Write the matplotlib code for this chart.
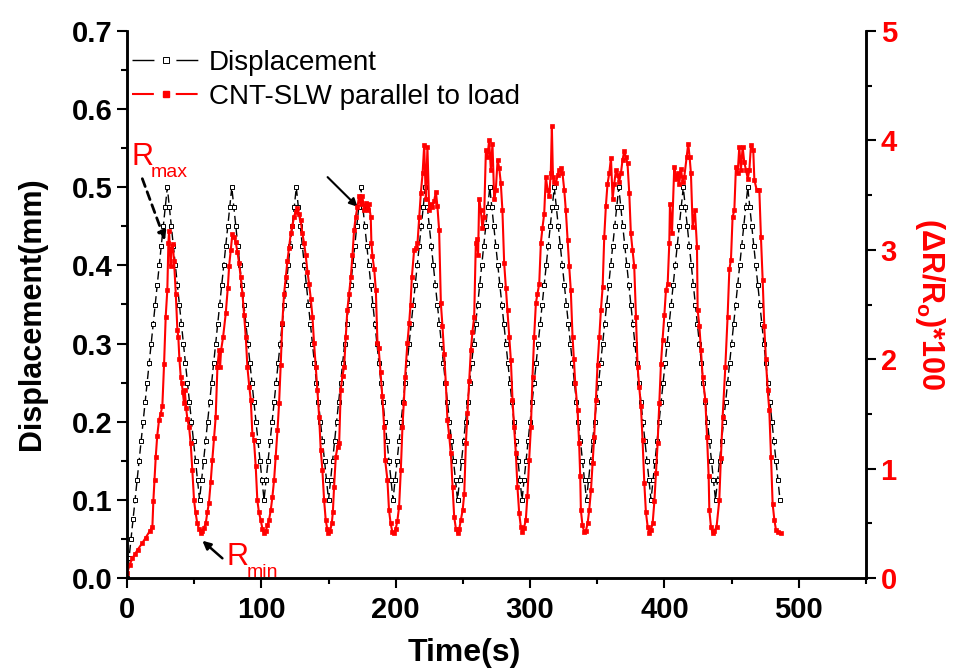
import numpy as np
import matplotlib
matplotlib.use("Agg")
from matplotlib import pyplot as plt
from matplotlib.ticker import MultipleLocator
from matplotlib.lines import Line2D

plt.rcParams['font.family'] = ['Liberation Sans', 'DejaVu Sans']
plt.rcParams['mathtext.fontset'] = 'custom'
plt.rcParams['mathtext.rm'] = 'Liberation Sans'
plt.rcParams['mathtext.bf'] = 'Liberation Sans:bold'

# displacement, sampled every 1.5 s
sample_step = 1.5
disp_mm = [
    0, 0.025, 0.05, 0.075, 0.1, 0.125, 0.15, 0.175, 0.2, 0.225, 0.25, 0.275, 0.3, 0.325, 0.35, 0.375, 0.4, 0.425, 0.45, 0.475, 0.5,
    0.475, 0.45, 0.425, 0.4, 0.375, 0.35, 0.325, 0.3, 0.275, 0.25, 0.225, 0.2, 0.175, 0.15, 0.125, 0.1,
    0.125, 0.15, 0.175, 0.2, 0.225, 0.25, 0.275, 0.3, 0.325, 0.35, 0.375, 0.4, 0.425, 0.45, 0.475, 0.5,
    0.475, 0.45, 0.425, 0.4, 0.375, 0.35, 0.325, 0.3, 0.275, 0.25, 0.225, 0.2, 0.175, 0.15, 0.125, 0.1,
    0.125, 0.15, 0.175, 0.2, 0.225, 0.25, 0.275, 0.3, 0.325, 0.35, 0.375, 0.4, 0.425, 0.45, 0.475, 0.5,
    0.475, 0.45, 0.425, 0.4, 0.375, 0.35, 0.325, 0.3, 0.275, 0.25, 0.225, 0.2, 0.175, 0.15, 0.125, 0.1,
    0.125, 0.15, 0.175, 0.2, 0.225, 0.25, 0.275, 0.3, 0.325, 0.35, 0.375, 0.4, 0.425, 0.45, 0.475, 0.5,
    0.475, 0.45, 0.425, 0.4, 0.375, 0.35, 0.325, 0.3, 0.275, 0.25, 0.225, 0.2, 0.175, 0.15, 0.125, 0.1,
    0.125, 0.15, 0.175, 0.2, 0.225, 0.25, 0.275, 0.3, 0.325, 0.35, 0.375, 0.4, 0.425, 0.45, 0.475, 0.5,
    0.475, 0.45, 0.425, 0.4, 0.375, 0.35, 0.325, 0.3, 0.275, 0.25, 0.225, 0.2, 0.175, 0.15, 0.125, 0.1,
    0.125, 0.15, 0.175, 0.2, 0.225, 0.25, 0.275, 0.3, 0.325, 0.35, 0.375, 0.4, 0.425, 0.45, 0.475, 0.5,
    0.475, 0.45, 0.425, 0.4, 0.375, 0.35, 0.325, 0.3, 0.275, 0.25, 0.225, 0.2, 0.175, 0.15, 0.125, 0.1,
    0.125, 0.15, 0.175, 0.2, 0.225, 0.25, 0.275, 0.3, 0.325, 0.35, 0.375, 0.4, 0.425, 0.45, 0.475, 0.5,
    0.475, 0.45, 0.425, 0.4, 0.375, 0.35, 0.325, 0.3, 0.275, 0.25, 0.225, 0.2, 0.175, 0.15, 0.125, 0.1,
    0.125, 0.15, 0.175, 0.2, 0.225, 0.25, 0.275, 0.3, 0.325, 0.35, 0.375, 0.4, 0.425, 0.45, 0.475, 0.5,
    0.475, 0.45, 0.425, 0.4, 0.375, 0.35, 0.325, 0.3, 0.275, 0.25, 0.225, 0.2, 0.175, 0.15, 0.125, 0.1,
    0.125, 0.15, 0.175, 0.2, 0.225, 0.25, 0.275, 0.3, 0.325, 0.35, 0.375, 0.4, 0.425, 0.45, 0.475, 0.5,
    0.475, 0.45, 0.425, 0.4, 0.375, 0.35, 0.325, 0.3, 0.275, 0.25, 0.225, 0.2, 0.175, 0.15, 0.125, 0.1,
    0.125, 0.15, 0.175, 0.2, 0.225, 0.25, 0.275, 0.3, 0.325, 0.35, 0.375, 0.4, 0.425, 0.45, 0.475, 0.5,
    0.475, 0.45, 0.425, 0.4, 0.375, 0.35, 0.325, 0.3, 0.275, 0.25, 0.225, 0.2, 0.175, 0.15, 0.125, 0.1,
]
disp_time = np.arange(len(disp_mm)) * sample_step

# (dR/Ro)*100 of the CNT-SLW sensor
red_time = [
    0.2, 2, 4, 6, 8, 11.4, 14, 17, 18.9, 19.6,
    20.5, 21.4, 22.5, 23.8, 25, 26.3, 27.6, 28.8, 30, 30.8,
    31.3, 32.5, 33, 34, 35, 36.3, 37.5, 38.2, 39, 40,
    40.8, 41.5, 42.4, 43, 44, 45, 46.2, 47.4, 48.6, 49.9,
    51, 52.3, 53.5, 54.9,
    56, 57.3, 58.6, 59.8, 61, 62.3, 63.5, 64.8, 66, 67.3,
    68.5, 69.3, 70, 71.5, 73.5, 75, 76, 77.2, 78.4, 79.6,
    80.9, 82.2, 83.4, 84.6, 85.9, 87.2, 88.4, 89.6, 91, 92.1,
    93.3, 94.5, 95.8, 97, 98.2, 99.5, 100.8, 102,
    103.3, 104.5, 105.7, 107, 108.2, 109.5, 110.7, 112, 113.2, 114.4,
    115.6, 116.9, 118.2, 119.4, 120.6, 121.9, 123.1, 124.3, 125.5, 126.8,
    128, 129.3, 130.5, 131.8, 133, 134.3, 135.5, 136.8, 138, 139.2,
    140.5, 141.7, 143, 144.2, 145.4, 146.7, 147.9, 149, 149.9,
    151.2, 152.4, 153.2, 154.1, 155.4, 156.7, 157.9, 159.1, 160.4, 161.6,
    162.8, 164, 165.3, 166.6, 167.8, 169, 170.2, 171.5, 172.7, 174,
    175.2, 176.4, 177.7, 179, 180, 181.4, 181.9, 182.7, 184, 185.2,
    186.4, 187.3, 188.7, 190, 191.4, 192.1, 193.8, 195, 196.2, 197.5,
    198.7,
    200, 201.2, 202.5, 203.8, 205, 206, 207, 208.7, 210, 211,
    212, 213.7, 215, 216.2, 217.5, 218.7, 220, 221.2, 222.4, 223.6,
    224.9, 226, 227.3, 228.6, 229.9, 231, 232.3, 233.6, 234.8, 236,
    237.3, 238.5, 239.8, 241, 242.3, 243.5, 244.8, 246,
    247.3, 248.5, 249.8, 251, 252.2, 253.4, 254.6, 255.9, 257.1, 258.4,
    259.6, 260.5, 261.3, 262.1, 263.3, 264.5, 265.8, 267.1, 268.3, 269.5,
    270.8, 272, 273.3, 274.5, 275.8, 277, 278.2, 279.4, 280.7, 282,
    283.2, 284.5, 285.7, 286.9, 288.1, 289.4, 290.6, 291.9, 293.1, 294.3,
    295.5, 296.8, 298, 299.3, 300.6, 301.8, 303, 304.3, 305.5, 306.8,
    308, 309.2, 310.5, 311.7, 313, 314.2, 315.4, 316.2, 317, 318.1,
    319.2, 320.5, 321.7, 323, 324.1, 325.4, 326.6, 327.9, 329.1, 330.3,
    331.6, 332.6, 333.6, 335.3, 336.5, 337.3, 337.8, 339, 340.3,
    341.5, 342.8, 344, 345.3, 346.5, 347.7, 349, 350.2, 351.5, 352.7,
    354, 355.2, 356.4, 357.6, 358.9, 360.2, 361.4, 362.6, 363.9, 365.1,
    366.3, 367.6, 368.8, 370, 371.3, 372.5, 373.8, 375, 376.2, 377.5,
    378.8, 380, 381.2, 382.5, 383.7, 385, 386.2, 387.5, 388.7,
    390, 391.2, 392.5, 393.7, 394.9, 396.2, 397.4, 398.6, 399.9, 401.1,
    402.4, 403.6, 404.1, 405.6, 407.3, 408.5, 409.8, 411, 412.3, 413.5,
    414.8, 416.5, 417.7, 418.7, 419.7, 421, 422.7, 424.2, 424.7, 426,
    427.2, 428.4, 430.4, 431.7, 432.9, 433.4, 434.6, 435.8,
    437.2, 438.8, 440.8, 442, 443.3, 445.3, 447, 448.3, 449.5, 450.7,
    452, 453.2, 454.5, 455.7, 456.9, 458.2, 459.4, 460.7, 462, 463.2,
    464.4, 466.1, 466.9, 468.6, 470.6, 471.8, 473.1, 474.3, 475.5, 476.8,
    478, 479.3, 480.5, 481.8, 483, 484.5, 486.7,
]
red_ratio = [
    0.05, 0.12, 0.18, 0.22, 0.26, 0.32, 0.37, 0.43, 0.47, 0.70,
    0.9, 1.11, 1.3, 1.44, 1.5, 1.57, 1.96, 2.39, 2.63, 3.06,
    3.17, 2.85, 3.0, 3.05, 2.9, 2.6, 2.27, 2.2, 2.0, 1.84,
    1.78, 1.7, 1.6, 1.72, 1.55, 1.45, 1.38, 1.23, 0.99, 0.71,
    0.6, 0.50, 0.45, 0.41,
    0.43, 0.46, 0.50, 0.6, 0.69, 0.88, 1.08, 1.28, 1.47, 1.93,
    2.08, 1.93, 2.08, 2.2, 2.42, 2.65, 2.85, 3.0, 3.14, 3.12,
    3.07, 2.98, 2.88, 2.75, 2.6, 2.4, 2.2, 1.93, 1.75, 1.63,
    1.32, 1.26, 1.02, 0.71, 0.6, 0.53, 0.45, 0.41,
    0.43, 0.48, 0.53, 0.62, 0.74, 0.9, 1.11, 1.35, 1.6, 1.95,
    2.33, 2.6, 2.75, 2.9, 3.02, 3.15, 3.22, 3.3, 3.35, 3.38,
    3.33, 3.27, 3.15, 3.06, 2.95, 2.8, 2.69, 2.55, 2.39, 2.15,
    1.93, 1.72, 1.47, 1.17, 0.99, 0.71, 0.53, 0.45, 0.41,
    0.43, 0.5, 0.6, 0.83, 1.11, 1.2, 1.23, 1.72, 1.85, 1.93,
    2.2, 2.45, 2.6, 2.75, 2.95, 3.18, 3.3, 3.39, 3.49, 3.42,
    3.49, 3.36, 3.43, 3.36, 3.42, 3.3, 3.06, 2.94, 2.82, 2.63,
    2.15, 2.1, 1.88, 1.66, 1.38, 1.08, 0.9, 0.62, 0.5, 0.42,
    0.41,
    0.45, 0.52, 0.65, 0.99, 1.38, 1.6, 1.84, 2.15, 2.33, 2.5,
    2.75, 3.0, 3.02, 3.06, 3.3, 3.52, 3.7, 3.96, 3.46, 3.94,
    3.36, 3.42, 3.39, 3.45, 3.53, 3.4, 3.18, 2.51, 2.3, 2.05,
    1.78, 1.44, 1.3, 1.14, 0.83, 0.56, 0.45, 0.41,
    0.45, 0.53, 0.62, 0.77, 1.23, 1.51, 1.8, 2.08, 2.25, 2.39,
    3.06, 3.1, 2.95, 3.46, 3.36, 3.2, 3.3, 3.91, 3.85, 4.0,
    3.73, 3.97, 3.46, 3.55, 3.82, 3.75, 3.61, 3.36, 2.88, 2.65,
    2.45, 2.2, 1.99, 1.63, 1.38, 1.14, 0.83, 0.59, 0.47, 0.42,
    0.46, 0.53, 0.75, 1.08, 1.38, 1.84, 2.2, 2.51, 2.6, 2.69,
    3.06, 3.2, 3.33, 3.67, 3.55, 3.49, 3.7, 4.13, 3.67, 3.62,
    3.61, 3.68, 3.73, 3.75, 3.7, 3.55, 3.36, 3.09, 2.85, 2.63,
    2.2, 2.0, 1.78, 1.54, 1.23, 0.93, 0.62, 0.48, 0.42,
    0.43, 0.5, 0.62, 0.8, 1.05, 1.29, 1.63, 1.95, 2.2, 2.45,
    2.66, 3.12, 3.4, 3.6, 3.7, 3.84, 3.46, 3.6, 3.73, 3.68,
    3.62, 3.7, 3.82, 3.9, 3.85, 3.79, 3.52, 3.15, 3.0, 2.85,
    2.39, 1.93, 1.75, 1.57, 1.26, 0.87, 0.6, 0.47, 0.41,
    0.44, 0.5, 0.7, 0.96, 1.23, 1.6, 1.96, 2.18, 2.4, 2.63,
    2.69, 3.06, 3.42, 3.15, 3.76, 3.65, 3.7, 3.6, 3.74, 3.62,
    3.67, 3.85, 3.97, 3.85, 3.7, 3.21, 3.36, 3.03, 2.45, 2.3,
    2.08, 1.84, 1.63, 1.29, 0.93, 0.62, 0.47, 0.41,
    0.43, 0.47, 0.71, 1.1, 1.47, 1.93, 2.39, 2.82, 2.91, 3.3,
    3.36, 3.76, 3.7, 3.94, 3.73, 3.94, 3.8, 3.73, 3.65, 3.73,
    3.96, 3.91, 3.64, 3.55, 3.55, 3.12, 2.72, 2.3, 2.0, 1.72,
    1.54, 1.11, 0.68, 0.53, 0.44, 0.42, 0.41,
]

fig = plt.figure(figsize=(9.57, 6.70), dpi=100)
ax = fig.add_axes([127 / 957, 1 - 578 / 670, 739 / 957, 547 / 670])
ax2 = ax.twinx()

ax.plot(disp_time, disp_mm, color='black', lw=1.0, ls=(0, (6, 3)),
        marker='s', ms=3.5, mfc='white', mec='black', mew=0.7)
ax2.plot(red_time, red_ratio, color='red', lw=1.5,
         marker='s', ms=3, mfc='red', mec='red', mew=0.5)

ax.set_xlim(0, 550)
ax.set_ylim(0, 0.7)
ax2.set_ylim(0, 5)

ax.xaxis.set_major_locator(MultipleLocator(100))
ax.xaxis.set_minor_locator(MultipleLocator(50))
ax.yaxis.set_major_locator(MultipleLocator(0.1))
ax.yaxis.set_minor_locator(MultipleLocator(0.05))
ax2.yaxis.set_major_locator(MultipleLocator(1))
ax2.yaxis.set_minor_locator(MultipleLocator(0.5))
ax.yaxis.set_major_formatter(plt.FormatStrFormatter('%.1f'))

for a in (ax, ax2):
    for s in a.spines.values():
        s.set_linewidth(1.8)
    a.spines['top'].set_visible(False)
    a.tick_params(which='major', direction='out', length=7, width=1.5, labelsize=21)
    a.tick_params(which='minor', direction='out', length=4, width=1.5)
ax.tick_params(axis='x', which='major', pad=6)
ax.tick_params(axis='y', which='both', right=False)
ax.tick_params(axis='x', which='both', top=False)
for lab in ax.get_xticklabels() + ax.get_yticklabels():
    lab.set_fontweight('bold')
for lab in ax2.get_yticklabels():
    lab.set_fontweight('bold')
    lab.set_color('red')

ax.set_xlabel('Time(s)', fontsize=23, fontweight='bold')
ax.xaxis.set_label_coords(0.457, -0.11)
ax.set_ylabel('Displacement(mm)', fontsize=22, fontweight='bold')
ax.yaxis.set_label_coords(-0.108, 0.484)
ax2.set_ylabel(r'$\mathbf{(\Delta R/R_o)}$*100', fontsize=22, color='red',
               fontweight='bold', rotation=270, labelpad=36)

# legend
h_disp = Line2D([], [], color='black', lw=1.0, ls=(0, (15.8, 15.8)),
                marker='s', ms=4, mfc='white', mec='black', mew=0.7)
h_red = Line2D([], [], color='red', lw=1.5, ls=(0, (10.5, 10.5)),
               marker='s', ms=4, mfc='red', mec='red')
ax.legend([h_disp, h_red], ['Displacement', 'CNT-SLW parallel to load'],
          loc='upper left', bbox_to_anchor=(0.007, 0.965), frameon=False,
          fontsize=20, handlelength=2.4, handletextpad=0.35,
          labelspacing=0.28, borderpad=0, borderaxespad=0, numpoints=1)

# annotations
ax.text(3.5, 0.528, 'R', color='red', fontsize=22)
ax.text(17.6, 0.513, 'max', color='red', fontsize=14)
ax.annotate('', xy=(28.3, 0.432), xytext=(11.4, 0.511),
            arrowprops=dict(arrowstyle='-|>', color='black', lw=2,
                            ls=(0, (3, 2)), mutation_scale=12, shrinkA=0, shrinkB=0))
ax.text(73.8, 0.0166, 'R', color='red', fontsize=22)
ax.text(89.2, 0.001, 'min', color='red', fontsize=14)
ax.annotate('', xy=(56.1, 0.0477), xytext=(71, 0.0252),
            arrowprops=dict(arrowstyle='-|>', color='black', lw=1.8,
                            mutation_scale=12, shrinkA=0, shrinkB=0))
ax.annotate('', xy=(171.6, 0.475), xytext=(149.3, 0.513),
            arrowprops=dict(arrowstyle='-|>', color='black', lw=1.5,
                            mutation_scale=12, shrinkA=0, shrinkB=0))

fig.savefig('out.png', dpi=100)
